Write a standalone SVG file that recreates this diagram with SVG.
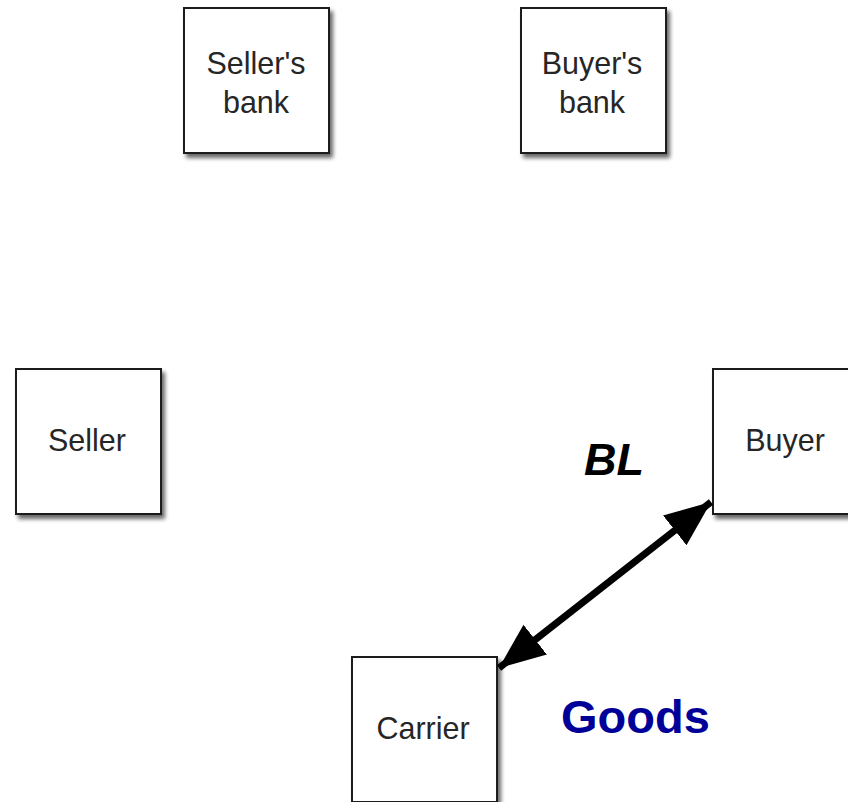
<svg xmlns="http://www.w3.org/2000/svg" width="848" height="802" viewBox="0 0 848 802">
  <style>
    .box { fill: #ffffff; stroke: #1e1e1e; stroke-width: 2; filter: url(#shadow); }
    .label { font-family: "Liberation Sans", Arial, sans-serif; font-size: 30.5px; fill: #262626; text-anchor: middle; }
    .link { stroke: #000000; stroke-width: 7; fill: none; marker-start: url(#head); marker-end: url(#head); }
    .bl { font-family: "Liberation Sans", Arial, sans-serif; font-size: 45px; font-weight: bold; font-style: italic; fill: #000000; }
    .goods { font-family: "Liberation Sans", Arial, sans-serif; font-size: 47px; font-weight: bold; fill: #000099; }
  </style>
  <defs>
    <filter id="shadow" x="-10%" y="-10%" width="130%" height="130%">
      <feGaussianBlur in="SourceAlpha" stdDeviation="2"/>
      <feOffset dx="3" dy="4" result="blur"/>
      <feComponentTransfer><feFuncA type="linear" slope="0.6"/></feComponentTransfer>
      <feMerge><feMergeNode/><feMergeNode in="SourceGraphic"/></feMerge>
    </filter>
    <marker id="head" markerUnits="userSpaceOnUse" markerWidth="48" markerHeight="42" refX="46" refY="20" orient="auto-start-reverse" viewBox="0 0 48 40">
      <path d="M0,1 L46,20 L0,39 Z" fill="#000000"/>
    </marker>
  </defs>
  <rect width="848" height="802" fill="#ffffff"/>

  <g id="sellers-bank">
    <rect class="box" x="184" y="8" width="145" height="145"/>
    <text class="label" x="256" y="74">Seller's</text>
    <text class="label" x="256" y="113">bank</text>
  </g>

  <g id="buyers-bank">
    <rect class="box" x="521" y="8" width="145" height="145"/>
    <text class="label" x="592" y="74">Buyer's</text>
    <text class="label" x="592" y="113">bank</text>
  </g>

  <g id="seller">
    <rect class="box" x="16" y="369" width="145" height="145"/>
    <text class="label" x="87" y="451">Seller</text>
  </g>

  <g id="buyer">
    <rect class="box" x="713" y="369" width="145" height="145"/>
    <text class="label" x="785" y="451">Buyer</text>
  </g>

  <g id="carrier">
    <rect class="box" x="352" y="657" width="145" height="145"/>
    <text class="label" x="423" y="739">Carrier</text>
  </g>

  <g id="connectors">
    <line class="link" x1="499" y1="668" x2="711" y2="502"/>
  </g>

  <text class="bl" x="584" y="475">BL</text>
  <text class="goods" x="561" y="733">Goods</text>
</svg>
